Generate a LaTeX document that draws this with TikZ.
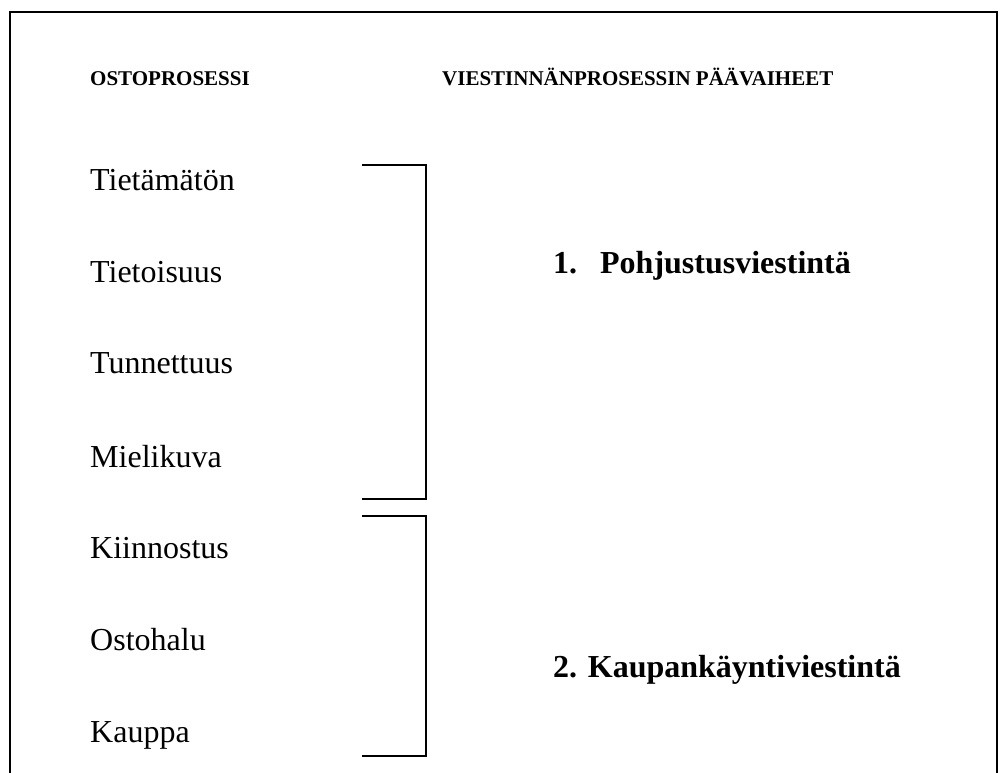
\documentclass[tikz,border=0pt]{standalone}
\usepackage{fontspec}
\setmainfont{Liberation Serif}
\usepackage{tikz}
\usetikzlibrary{positioning}

\begin{document}
\begin{tikzpicture}[x=1pt, y=-1pt,
    stage/.style={anchor=base west, inner sep=0pt, font=\fontsize{32}{38}\selectfont},
    head/.style={anchor=base west, inner sep=0pt, font=\fontsize{21}{25}\selectfont\bfseries},
    phase/.style={anchor=base west, inner sep=0pt, font=\fontsize{32}{38}\selectfont\bfseries},
    brace/.style={line width=1.5pt}]
      \useasboundingbox (0,0) rectangle (1006,773);

      % Frame (open at the bottom)
      \draw[line width=2pt] (10,773) -- (10,12) -- (997,12) -- (997,773);

      % Headings
      \node[head] (ostohead) at (90,86) {OSTOPROSESSI};
      \node[head] (viesthead) at (442,86) {VIESTINNÄNPROSESSIN PÄÄVAIHEET};

      % Stages of buying
      \node[stage] (tietamaton) at (90,190) {Tietämätön};
      \node[stage] (tietoisuus) at (90,282) {Tietoisuus};
      \node[stage] (tunnettuus) at (90,373) {Tunnettuus};
      \node[stage] (mielikuva) at (90,467) {Mielikuva};
      \node[stage] (kiinnostus) at (90,558) {Kiinnostus};
      \node[stage] (ostohalu) at (90,650) {Ostohalu};
      \node[stage] (kauppa) at (90,742) {Kauppa};

      % Brackets
      \draw[brace] (362,165) -- (426,165) -- (426,499) -- (362,499);
      \draw[brace] (362,516) -- (426,516) -- (426,756) -- (362,756);

      % Phases
      \node[phase] (pohjustus) at (553,273) {1.\hspace{23pt}Pohjustusviestintä};
      \node[phase] (kaupankaynti) at (553,677) {2. Kaupankäyntiviestintä};
\end{tikzpicture}
\end{document}
